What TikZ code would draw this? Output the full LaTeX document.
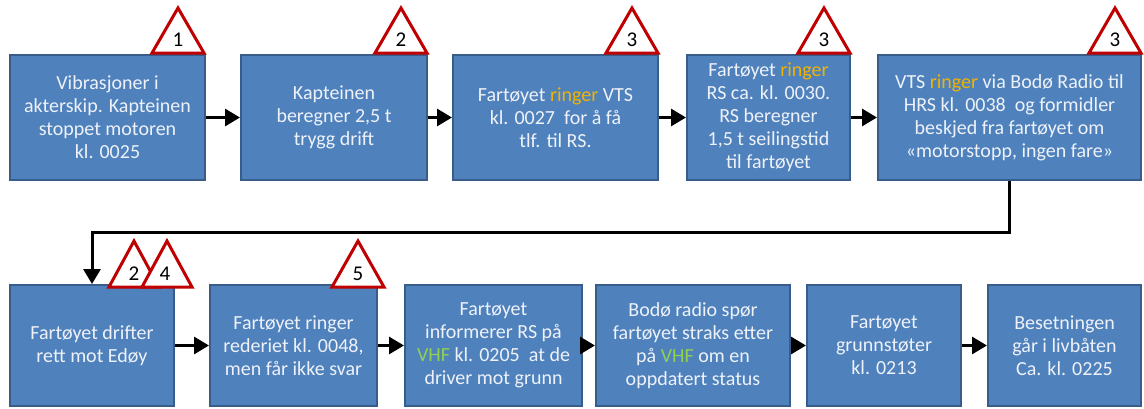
\documentclass[tikz,border=0pt]{standalone}
\usepackage{fontspec}
\setmainfont{Carlito}
\usetikzlibrary{arrows.meta}
\definecolor{boxfill}{HTML}{4F81BD}
\definecolor{boxline}{HTML}{385D8A}
\definecolor{boxtext}{HTML}{EEF2F8}
\definecolor{ringcol}{HTML}{F0B400}
\definecolor{vhfcol}{HTML}{92D050}
\definecolor{warnred}{HTML}{C00000}
\newcommand{\rng}[1]{\textcolor{ringcol}{#1}}
\newcommand{\vhf}[1]{\textcolor{vhfcol}{#1}}
\begin{document}
\begin{tikzpicture}[x=1pt,y=-1pt,
  evbox/.style={draw=boxline, line width=2pt, fill=boxfill, text=boxtext,
    align=center, inner sep=2pt, font=\fontsize{20}{23}\selectfont},
  arr/.style={line width=3pt, -{Triangle[length=15pt,width=17pt]}},
  warntri/.style={draw=warnred, line width=3pt, fill=white, line join=miter},
  warnnum/.style={font=\fontsize{21}{22}\selectfont, text=black, inner sep=0pt}
]
\useasboundingbox (0,0) rectangle (1144,408);
% top row
\node[evbox, minimum width=195pt, minimum height=125pt] (b1) at (107.5,117.5)
  {Vibrasjoner i\\akterskip. Kapteinen\\stoppet motoren\\kl. 0025};
\node[evbox, minimum width=186pt, minimum height=125pt] (b2) at (334,117.5)
  {Kapteinen\\beregner 2,5 t\\trygg drift};
\node[evbox, minimum width=205pt, minimum height=125pt] (b3) at (555.5,117.5)
  {Fartøyet \rng{ringer} VTS\\kl. 0027 ~for å få\\tlf. til RS.};
\node[evbox, minimum width=163pt, minimum height=125pt] (b4) at (768.5,117.5)
  {Fartøyet \rng{ringer}\\RS ca. kl. 0030.\\RS beregner\\1,5 t seilingstid\\til fartøyet};
\node[evbox, minimum width=263pt, minimum height=125pt] (b5) at (1009.5,117.5)
  {VTS \rng{ringer} via Bodø Radio til\\HRS kl. 0038 ~og formidler\\beskjed fra fartøyet om\\«motorstopp, ingen fare»};
% bottom row
\node[evbox, minimum width=164pt, minimum height=121pt] (b6) at (92,345.5)
  {Fartøyet drifter\\rett mot Edøy};
\node[evbox, minimum width=167pt, minimum height=121pt] (b7) at (293.5,345.5)
  {Fartøyet ringer\\rederiet kl. 0048,\\men får ikke svar};
\node[evbox, minimum width=177pt, minimum height=121pt] (b8) at (493.5,345.5)
  {Fartøyet\\informerer RS på\\\vhf{VHF} kl. 0205 ~at de\\driver mot grunn};
\node[evbox, minimum width=194pt, minimum height=121pt] (b9) at (693,345.5)
  {Bodø radio spør\\fartøyet straks etter\\på \vhf{VHF} om en\\oppdatert status};
\node[evbox, minimum width=154pt, minimum height=121pt] (b10) at (884,345.5)
  {Fartøyet\\grunnstøter\\kl. 0213};
\node[evbox, minimum width=153pt, minimum height=121pt] (b11) at (1064.5,345.5)
  {Besetningen\\går i livbåten\\Ca. kl. 0225};
% connectors
\draw[arr] (b1) -- (b2);
\draw[arr] (b2) -- (b3);
\draw[arr] (b3) -- (b4);
\draw[arr] (b4) -- (b5);
\coordinate (turn) at (92,232);
\draw[arr] (b5.south) |- (turn) -- (b6.north);
\draw[arr] (b6) -- (b7);
\draw[arr] (b7) -- (b8);
\draw[arr] (b8) -- (b9);
\draw[arr] (b9) -- (b10);
\draw[arr] (b10) -- (b11);
% warning triangles, top row
\draw[warntri] (152,53) -- (178,8) -- (204,53) -- cycle;
\node[warnnum] (w1) at (178,40) {1};
\draw[warntri] (375,53) -- (401,8) -- (427,53) -- cycle;
\node[warnnum] (w2) at (401,40) {2};
\draw[warntri] (606,53) -- (632,8) -- (658,53) -- cycle;
\node[warnnum] (w3a) at (632,40) {3};
\draw[warntri] (798,53) -- (824,8) -- (850,53) -- cycle;
\node[warnnum] (w3b) at (824,40) {3};
\draw[warntri] (1089,53) -- (1115,8) -- (1141,53) -- cycle;
\node[warnnum] (w3c) at (1115,40) {3};
% warning triangles, bottom row
\draw[warntri] (109,287) -- (134,241) -- (159,287) -- cycle;
\node[warnnum] (w6a) at (134,274) {2};
\draw[warntri] (142,287) -- (167,241) -- (192,287) -- cycle;
\node[warnnum] (w6b) at (165,274) {4};
\draw[warntri] (332,287) -- (358,241) -- (384,287) -- cycle;
\node[warnnum] (w7) at (358,274) {5};
\end{tikzpicture}
\end{document}
